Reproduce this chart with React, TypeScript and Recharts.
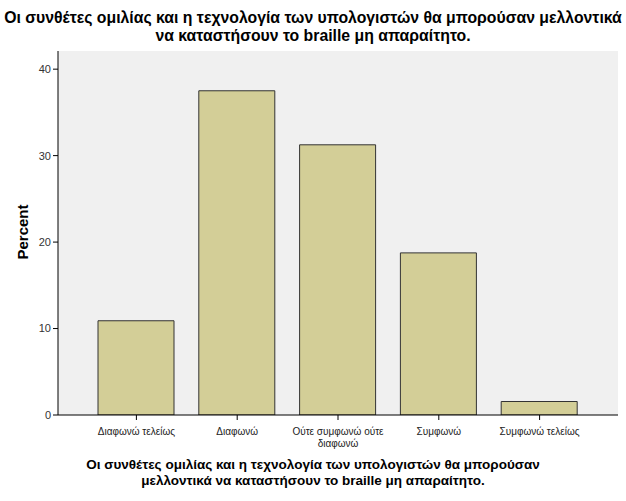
import React from 'react';
import { BarChart, Bar, XAxis, YAxis, CartesianGrid } from 'recharts';

const categories = ['Διαφωνώ τελείως', 'Διαφωνώ', 'Ούτε συμφωνώ ούτε διαφωνώ', 'Συμφωνώ', 'Συμφωνώ τελείως'];
const percents = [10.9, 37.5, 31.25, 18.75, 1.56];
const yTicks = [0, 10, 20, 30, 40];

const data = categories.map((name, i) => ({ name, value: percents[i] }));

const FONT = '"Liberation Sans", Arial, sans-serif';

function wrapLabel(s: string, maxChars: number): string[] {
  const words = s.split(' ');
  const lines: string[] = [];
  let cur = '';
  for (const w of words) {
    const next = cur ? cur + ' ' + w : w;
    if (next.length > maxChars && cur) {
      lines.push(cur);
      cur = w;
    } else {
      cur = next;
    }
  }
  if (cur) lines.push(cur);
  return lines;
}

const CategoryTick = (props: any) => {
  const { x, y, payload } = props;
  const lines = wrapLabel(String(payload.value), 20);
  return (
    <text x={x} y={y + 4} textAnchor="middle" fontSize={10} fontFamily={FONT} fill="#222">
      {lines.map((l, i) => (
        <tspan key={i} x={x} dy={i === 0 ? '0.9em' : 12}>
          {l}
        </tspan>
      ))}
    </text>
  );
};

export default function App() {
  return (
    <div style={{ position: 'absolute', left: 0, top: 0, width: 626, height: 501, background: '#fff', fontFamily: FONT }}>
      <div style={{ position: 'absolute', left: 0, top: 9, width: 626, textAlign: 'center', fontWeight: 'bold', fontSize: 15.8, lineHeight: '18px', color: '#000', whiteSpace: 'nowrap' }}>
        Οι συνθέτες ομιλίας και η τεχνολογία των υπολογιστών θα μπορούσαν μελλοντικά
        <br />
        να καταστήσουν το braille μη απαραίτητο.
      </div>
      <BarChart
        width={626}
        height={501}
        data={data}
        margin={{ top: 51, right: 8, bottom: 46, left: 18 }}
        barSize={76}
      >
        <CartesianGrid fill="#F0F0F0" horizontal={false} vertical={false} />
        <XAxis
          dataKey="name"
          height={40}
          padding={{ left: 28, right: 28 }}
          axisLine={{ stroke: '#000' }}
          tickLine={{ stroke: '#000' }}
          tickSize={5}
          tick={<CategoryTick />}
          interval={0}
        />
        <XAxis
          xAxisId="top"
          orientation="top"
          dataKey="name"
          height={0}
          tick={false}
          tickLine={false}
          axisLine={{ stroke: '#666' }}
        />
        <YAxis
          domain={[0, 42.1]}
          ticks={yTicks}
          width={40}
          axisLine={{ stroke: '#000' }}
          tickLine={{ stroke: '#000' }}
          tickSize={5}
          tick={{ fontSize: 11, fill: '#333', fontFamily: FONT }}
          allowDataOverflow
        />
        <YAxis
          yAxisId="right"
          orientation="right"
          width={0}
          tick={false}
          tickLine={false}
          axisLine={{ stroke: '#666' }}
        />
        <Bar dataKey="value" fill="#D3CE97" stroke="#333" strokeWidth={1} isAnimationActive={false} />
      </BarChart>
      <div style={{ position: 'absolute', left: 22, top: 232, width: 0, height: 0 }}>
        <div style={{ position: 'absolute', transform: 'translate(-50%, -50%) rotate(-90deg)', fontWeight: 'bold', fontSize: 15, whiteSpace: 'nowrap', color: '#000' }}>
          Percent
        </div>
      </div>
      <div style={{ position: 'absolute', left: 0, top: 457, width: 626, textAlign: 'center', fontWeight: 'bold', fontSize: 13.5, lineHeight: '16px', color: '#000', whiteSpace: 'nowrap' }}>
        Οι συνθέτες ομιλίας και η τεχνολογία των υπολογιστών θα μπορούσαν
        <br />
        μελλοντικά να καταστήσουν το braille μη απαραίτητο.
      </div>
    </div>
  );
}
